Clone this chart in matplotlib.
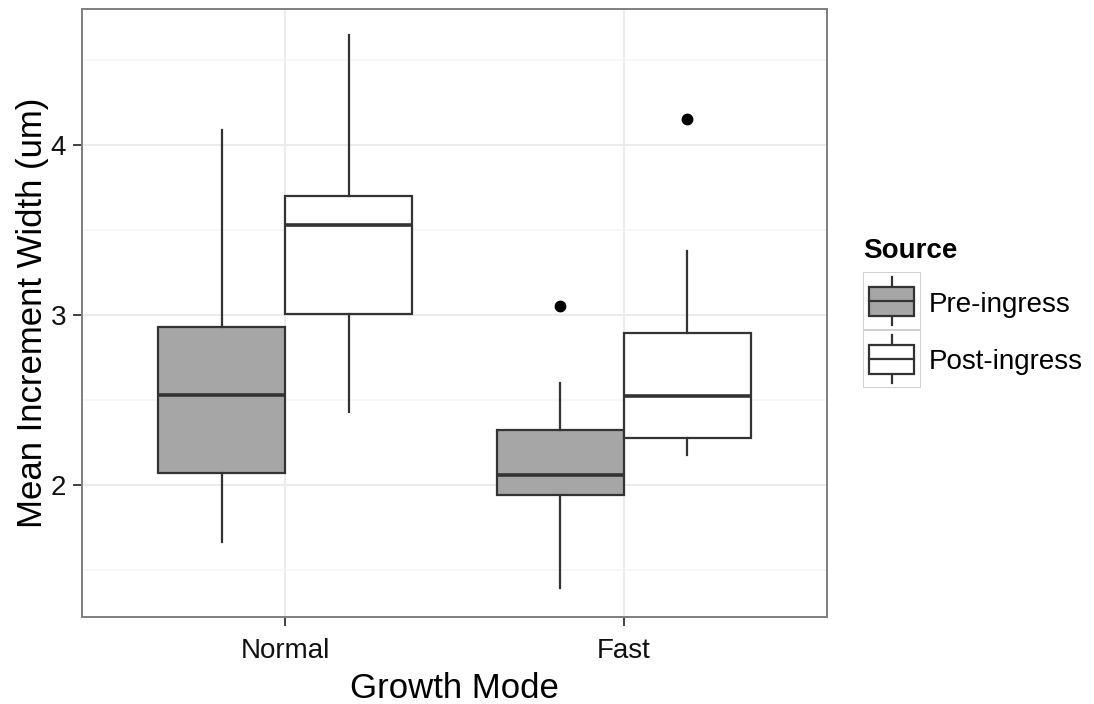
import matplotlib
matplotlib.use("Agg")
import matplotlib.pyplot as plt
from matplotlib.patches import Rectangle
from matplotlib.ticker import MultipleLocator

plt.rcParams['font.family'] = ['Liberation Sans', 'DejaVu Sans']

# Box summaries read per group: (whisker low, Q1, median, Q3, whisker high)
modes = ['Normal', 'Fast']
sources = ['Pre-ingress', 'Post-ingress']
pre_stats = [(1.667, 2.069, 2.528, 2.931, 4.088),
             (1.392, 1.941, 2.059, 2.324, 2.602)]
post_stats = [(2.431, 3.004, 3.530, 3.700, 4.647),
              (2.175, 2.278, 2.524, 2.896, 3.376)]
pre_outliers = [[], [3.055]]
post_outliers = [[], [4.153]]
fills = ['#a6a6a6', '#ffffff']

edge = '#333333'
fig = plt.figure(figsize=(10.94, 7.04), dpi=100)
ax = fig.add_axes([82 / 1094, 1 - 617 / 704, (827 - 82) / 1094, (617 - 9) / 704])

width = 0.375
for k, (stats, outs) in enumerate([(pre_stats, pre_outliers), (post_stats, post_outliers)]):
    bxp = []
    for (lo, q1, med, q3, hi), fl in zip(stats, outs):
        bxp.append(dict(whislo=lo, q1=q1, med=med, q3=q3, whishi=hi, fliers=fl))
    pos = [i + 1 + (k - 0.5) * width for i in range(len(modes))]
    ax.bxp(bxp, positions=pos, widths=width, showcaps=False, patch_artist=True,
           boxprops=dict(facecolor=fills[k], edgecolor=edge, linewidth=1.6),
           medianprops=dict(color=edge, linewidth=2.6),
           whiskerprops=dict(color=edge, linewidth=1.6),
           flierprops=dict(marker='o', markerfacecolor='black', markeredgecolor='black',
                           markersize=7.5),
           zorder=3)

ax.set_xlim(0.4, 2.6)
ax.set_ylim(1.224, 4.8)
ax.set_xticks([1, 2])
ax.set_xticklabels(modes)
ax.yaxis.set_major_locator(MultipleLocator(1))
ax.yaxis.set_minor_locator(MultipleLocator(0.5))
ax.grid(which='major', color='#ebebeb', linewidth=1.3, zorder=0)
ax.grid(which='minor', axis='y', color='#f5f5f5', linewidth=1.1, zorder=0)
ax.set_axisbelow(True)
ax.tick_params(which='major', length=6.5, width=1.3, color='#333333', pad=5,
               labelsize=20, labelcolor='#111111')
ax.tick_params(axis='x', pad=8.5)
ax.tick_params(which='minor', length=0)
for s in ax.spines.values():
    s.set_color('#7f7f7f')
    s.set_linewidth(1.4)

ax.set_xlabel('Growth Mode', fontsize=25, labelpad=6)
ax.set_ylabel('Mean Increment Width (um)', fontsize=25, labelpad=1)

# legend drawn by hand in ggplot style
fig.text(863 / 1094, 1 - 251 / 704, 'Source', fontsize=20, fontweight='bold', va='center')
lax = fig.add_axes([863 / 1094, 1 - 388 / 704, 58 / 1094, 116 / 704])
lax.set_xlim(0, 1)
lax.set_ylim(0, 2)
lax.axis('off')
for k, (lab, fc) in enumerate(zip(sources, fills)):
    y0 = 1 - k
    lax.add_patch(Rectangle((0, y0), 1, 1, facecolor='white', edgecolor='#d0d0d0',
                            linewidth=1.4))
    lax.add_patch(Rectangle((0.11, y0 + 0.25), 0.77, 0.5, facecolor=fc, edgecolor=edge,
                            linewidth=1.6, zorder=3))
    lax.plot([0.11, 0.88], [y0 + 0.5, y0 + 0.5], color=edge, linewidth=1.6, zorder=4)
    lax.plot([0.5, 0.5], [y0 + 0.08, y0 + 0.25], color=edge, linewidth=1.6)
    lax.plot([0.5, 0.5], [y0 + 0.75, y0 + 0.92], color=edge, linewidth=1.6)
    fig.text(929 / 1094, 1 - (305 + 57 * k) / 704, lab, fontsize=20, va='center')

fig.savefig('out.png', dpi=100)
